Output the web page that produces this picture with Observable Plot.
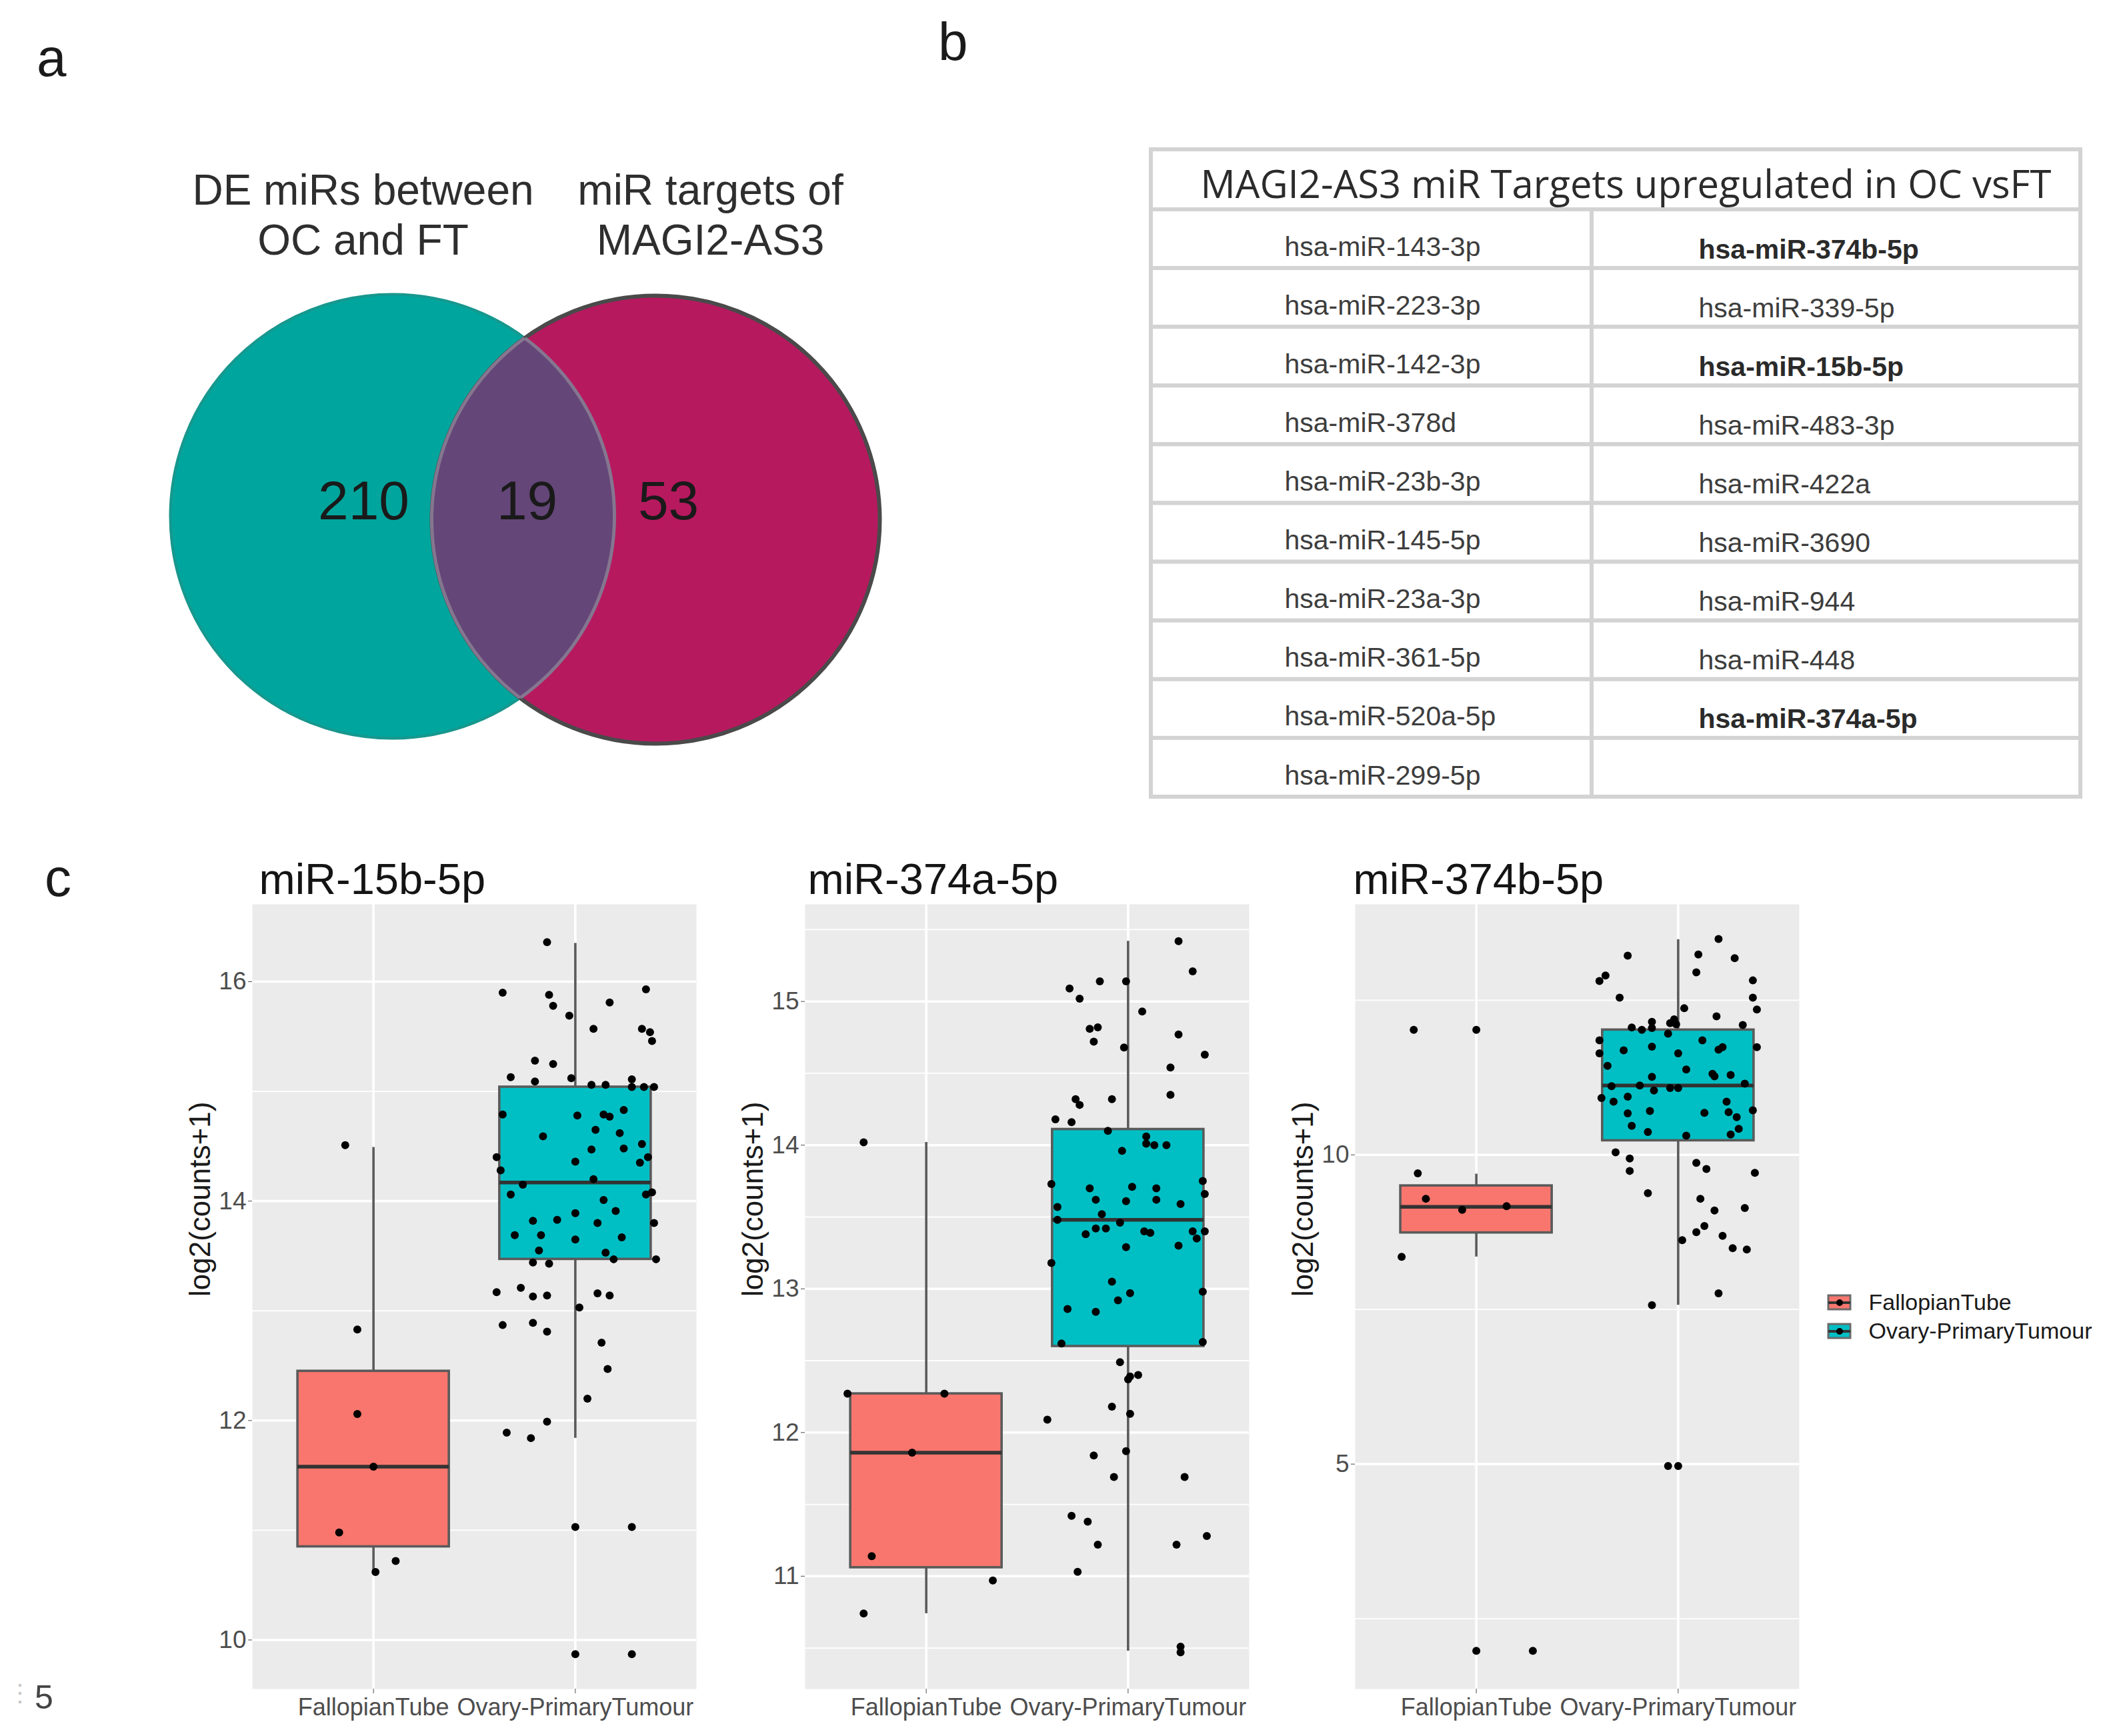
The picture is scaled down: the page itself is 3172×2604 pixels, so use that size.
<!DOCTYPE html>
<html><head><meta charset="utf-8">
<script src="https://cdn.jsdelivr.net/npm/d3@7"></script>
<script src="https://cdn.jsdelivr.net/npm/@observablehq/plot@0.6"></script>
<style>
body{margin:0;background:#fff;}
#fig{position:relative;width:3172px;height:2604px;overflow:hidden;background:#fff;font-family:"Liberation Sans",Arial,sans-serif;}
.lbl{position:absolute;line-height:1;color:#1a1a1a;white-space:pre;}
</style></head><body><div id="fig"></div>
<script>
// ---------------- DATA ----------------
const panelLetters = ["a", "b", "c"];
const vennSetLabels = ["DE miRs between\nOC and FT", "miR targets of\nMAGI2-AS3"];
const vennCounts = [210, 19, 53]; // left only, both, right only

const tableHeader = "MAGI2-AS3 miR Targets upregulated in OC vsFT";
const tableLeft = ["hsa-miR-143-3p","hsa-miR-223-3p","hsa-miR-142-3p","hsa-miR-378d","hsa-miR-23b-3p","hsa-miR-145-5p","hsa-miR-23a-3p","hsa-miR-361-5p","hsa-miR-520a-5p","hsa-miR-299-5p"];
const tableRight = ["hsa-miR-374b-5p","hsa-miR-339-5p","hsa-miR-15b-5p","hsa-miR-483-3p","hsa-miR-422a","hsa-miR-3690","hsa-miR-944","hsa-miR-448","hsa-miR-374a-5p",""];
const tableBold = ["hsa-miR-374b-5p","hsa-miR-15b-5p","hsa-miR-374a-5p"];

const groups = ["FallopianTube", "Ovary-PrimaryTumour"];
const groupFills = ["#F8766D", "#00BFC4"];
const yLabel = "log2(counts+1)";
const panelTitles = ["miR-15b-5p", "miR-374a-5p", "miR-374b-5p"];

// box statistics [lower whisker, q1, median, q3, upper whisker] per group
const box15b = [[10.62, 10.85, 11.58, 12.45, 14.49], [11.84, 13.47, 14.17, 15.04, 16.35]];
const box374a = [[10.74, 11.06, 11.86, 12.27, 14.02], [10.48, 12.60, 13.48, 14.11, 15.42]];
const box374b = [[8.35, 8.74, 9.16, 9.50, 9.69], [7.57, 10.23, 11.12, 12.02, 13.48]];

// boxplot outliers per group
const out15b = [[], [11.03, 9.87]];
const out374a = [[], []];
const out374b = [[12.02, 1.98], [4.97]];

// jittered samples: [jitter offset (fraction of category step), value]
const ft15b = [[-0.14,14.51],[-0.08,12.83],[-0.08,12.06],[0.00,11.58],[-0.17,10.98],[0.01,10.62],[0.11,10.72]];
const oc15b = [[-0.14,16.36],[-0.36,15.90],[-0.13,15.88],[-0.11,15.78],[0.17,15.81],[0.35,15.93],[-0.03,15.69],[0.09,15.57],[0.33,15.57],[0.37,15.54],[0.38,15.46],[-0.20,15.28],[-0.11,15.25],[-0.32,15.13],[-0.20,15.09],[-0.02,15.12],[0.08,15.06],[0.15,15.06],[0.28,15.11],[0.28,15.04],[0.34,15.04],[0.39,15.04],[-0.36,14.79],[0.01,14.78],[0.14,14.79],[0.17,14.77],[0.24,14.83],[-0.16,14.59],[0.10,14.65],[0.22,14.62],[0.08,14.47],[0.24,14.48],[0.33,14.52],[-0.39,14.40],[0.00,14.36],[0.32,14.35],[0.36,14.40],[-0.37,14.28],[-0.26,14.15],[0.09,14.20],[-0.32,14.06],[0.14,14.01],[0.35,14.06],[0.38,14.08],[-0.21,13.82],[-0.09,13.83],[0.00,13.89],[0.20,13.91],[0.11,13.80],[0.39,13.80],[-0.30,13.69],[-0.17,13.69],[0.00,13.65],[0.23,13.67],[-0.18,13.55],[0.15,13.53],[-0.21,13.44],[-0.13,13.43],[0.19,13.47],[0.40,13.47],[-0.39,13.17],[-0.27,13.21],[-0.21,13.13],[-0.14,13.14],[0.11,13.16],[0.17,13.14],[0.02,13.03],[-0.36,12.87],[-0.21,12.89],[-0.14,12.81],[0.13,12.71],[0.16,12.47],[0.06,12.20],[-0.14,11.99],[-0.34,11.89],[-0.22,11.84],[0.28,11.03],[0.28,9.87]];
const ft374a = [[-0.31,14.02],[-0.39,12.27],[0.09,12.27],[-0.07,11.86],[-0.27,11.14],[-0.31,10.74],[0.33,10.97]];
const oc374a = [[0.25,15.42],[0.32,15.21],[-0.29,15.09],[-0.14,15.14],[-0.01,15.14],[-0.24,15.02],[0.07,14.93],[-0.19,14.81],[-0.15,14.82],[-0.17,14.72],[0.25,14.77],[-0.02,14.68],[0.38,14.63],[0.21,14.54],[0.21,14.35],[-0.26,14.32],[-0.24,14.28],[-0.08,14.32],[-0.36,14.18],[-0.28,14.16],[-0.10,14.10],[0.09,14.06],[0.09,14.01],[0.13,14.00],[0.19,14.00],[-0.03,13.96],[-0.38,13.73],[-0.19,13.70],[0.02,13.71],[0.14,13.70],[0.37,13.75],[0.38,13.66],[-0.35,13.57],[-0.16,13.62],[-0.01,13.61],[0.14,13.62],[0.26,13.59],[-0.35,13.48],[-0.13,13.52],[-0.04,13.46],[-0.16,13.42],[-0.11,13.42],[-0.21,13.38],[0.08,13.40],[0.11,13.39],[0.32,13.40],[0.34,13.35],[0.38,13.40],[-0.01,13.29],[0.25,13.30],[-0.38,13.18],[-0.08,13.05],[-0.05,12.92],[0.01,12.97],[0.37,12.98],[-0.30,12.86],[-0.16,12.84],[-0.33,12.62],[0.37,12.63],[-0.04,12.49],[0.00,12.37],[0.05,12.40],[0.01,12.39],[-0.40,12.09],[-0.08,12.18],[0.01,12.13],[-0.17,11.84],[-0.01,11.87],[-0.07,11.69],[0.28,11.69],[-0.28,11.42],[-0.20,11.38],[-0.15,11.22],[0.24,11.22],[0.39,11.28],[-0.25,11.03],[0.26,10.51],[0.26,10.47]];
const ft374b = [[-0.31,12.02],[-0.29,9.70],[-0.25,9.29],[-0.07,9.11],[0.15,9.17],[-0.37,8.35],[0.28,1.98]];
const oc374b = [[0.20,13.49],[-0.25,13.22],[0.10,13.24],[0.28,13.18],[-0.36,12.90],[-0.39,12.81],[0.09,12.95],[0.37,12.82],[-0.29,12.54],[0.37,12.54],[0.03,12.37],[0.39,12.35],[0.19,12.24],[-0.23,12.06],[-0.18,12.02],[-0.13,12.15],[-0.13,12.05],[-0.04,12.13],[-0.02,12.19],[-0.01,12.11],[-0.05,11.96],[0.32,12.10],[-0.39,11.85],[0.12,11.85],[-0.27,11.69],[-0.13,11.75],[0.20,11.70],[0.22,11.74],[0.39,11.74],[-0.39,11.64],[0.00,11.64],[-0.35,11.44],[0.04,11.38],[-0.13,11.26],[0.17,11.31],[0.18,11.27],[0.26,11.29],[-0.33,11.11],[-0.19,11.12],[-0.12,11.04],[-0.04,11.08],[0.00,11.08],[0.33,11.15],[-0.38,10.92],[-0.32,10.86],[-0.25,10.94],[0.24,10.86],[-0.25,10.67],[-0.14,10.71],[0.13,10.68],[0.25,10.69],[0.29,10.61],[0.37,10.72],[-0.23,10.47],[-0.15,10.37],[0.04,10.31],[0.26,10.33],[0.30,10.42],[-0.31,10.04],[-0.24,9.94],[-0.24,9.74],[0.09,9.87],[0.14,9.77],[0.38,9.71],[-0.15,9.38],[0.11,9.29],[0.18,9.10],[0.33,9.14],[0.13,8.85],[0.09,8.75],[0.22,8.69],[0.02,8.62],[0.27,8.49],[0.34,8.47],[0.20,7.76],[-0.13,7.57],[-0.05,4.97]];

// y axis settings
const yDomains = [[9.553, 16.705], [10.215, 15.676], [1.364, 14.05]];
const yMajor = [[10, 12, 14, 16], [11, 12, 13, 14, 15], [5, 10]];
const yMinor = [[11, 13, 15], [10.5, 11.5, 12.5, 13.5, 14.5, 15.5], [2.5, 7.5, 12.5]];

// ---------------- LAYOUT ----------------
const fig = document.getElementById("fig");
const SANS = "Liberation Sans, Arial, Helvetica, sans-serif";
const NARROW = "Liberation Sans Narrow, Arial Narrow, " + SANS;
const OPEN = "Open Sans, " + SANS;
function place(el, left, top) {
  el.style.position = "absolute";
  el.style.left = left + "px";
  el.style.top = top + "px";
  fig.appendChild(el);
  return el;
}
function label(text, left, top, size, color) {
  const d = document.createElement("div");
  d.className = "lbl";
  d.textContent = text;
  d.style.fontSize = size + "px";
  if (color) d.style.color = color;
  place(d, left, top);
  return d;
}
label(panelLetters[0], 55, 47, 80);
label(panelLetters[1], 1407, 23, 80);
label(panelLetters[2], 67, 1277, 80);
label("\u22EE", 12, 2522, 36, "#c4c4c4");
label("5", 52, 2521, 50, "#444");

// ---------------- VENN ----------------
const VW = 1400, VH = 1200;
const vennGeom = {left: {x: 588, y: 774, r: 333}, right: {x: 983, y: 779, r: 336}};
const vennTextPos = [{x: 544, y: 381}, {x: 1065, y: 381}];
const vennCountPos = [{x: 545, y: 752}, {x: 790, y: 752}, {x: 1002, y: 752}];
const venn = Plot.plot({
  width: VW, height: VH, margin: 0,
  x: {domain: [0, VW], range: [0, VW], axis: null},
  y: {domain: [0, VH], range: [0, VH], axis: null},
  style: {background: "transparent", fontFamily: SANS, overflow: "visible"},
  marks: [
    Plot.dot([vennGeom.left], {x: "x", y: "y", r: vennGeom.left.r, fill: "#00A69D", stroke: "#17978e", strokeWidth: 4}),
    Plot.dot([vennGeom.right], {x: "x", y: "y", r: vennGeom.right.r, fill: "#B7195F", stroke: "#4a4a4a", strokeWidth: 6}),
    Plot.dot([vennGeom.left], {x: "x", y: "y", r: vennGeom.left.r, fill: "#644678", stroke: "none"}),
    Plot.dot([vennGeom.left], {x: "x", y: "y", r: vennGeom.left.r, fill: "none", stroke: "#857690", strokeWidth: 5}),
    Plot.dot([vennGeom.right], {x: "x", y: "y", r: vennGeom.right.r, fill: "none", stroke: "#857690", strokeWidth: 5}),
    Plot.text(vennSetLabels, {x: (d, i) => vennTextPos[i].x, y: (d, i) => vennTextPos[i].y, text: d => d, fontSize: 64, fontFamily: SANS, lineHeight: 1.17, lineAnchor: "bottom", fill: "#2e2e2e"}),
    Plot.text(vennCounts, {x: (d, i) => vennCountPos[i].x, y: (d, i) => vennCountPos[i].y, text: d => String(d), fontSize: 82, fontFamily: SANS, fill: "#1a1a1a"})
  ]
});
place(venn, 0, 0);
{
  const svg = d3.select(venn);
  const cs = venn.querySelectorAll("circle");
  const defs = svg.insert("defs", ":first-child");
  const mk = (id, c) => defs.append("clipPath").attr("id", id).append("circle")
    .attr("cx", c.getAttribute("cx")).attr("cy", c.getAttribute("cy")).attr("r", c.getAttribute("r"));
  mk("clipRightSet", cs[1]);
  mk("clipLeftSet", cs[0]);
  cs[2].setAttribute("clip-path", "url(#clipRightSet)");
  cs[3].setAttribute("clip-path", "url(#clipRightSet)");
  cs[4].setAttribute("clip-path", "url(#clipLeftSet)");
}

// ---------------- TABLE ----------------
const TW = 1450, TH = 1020;
const tb = {left: 26, right: 1420, top: 24, headBottom: 114, rowH: 88.1, split: 687};
const cells = [{x1: tb.left, x2: tb.right, y1: tb.top, y2: tb.headBottom}];
const cellTexts = [];
tableLeft.forEach((t, i) => {
  const y1 = tb.headBottom + i * tb.rowH, y2 = y1 + tb.rowH;
  cells.push({x1: tb.left, x2: tb.split, y1, y2});
  cells.push({x1: tb.split, x2: tb.right, y1, y2});
  cellTexts.push({x: tb.left + 200, y: (y1 + y2) / 2 + 12, t});
  cellTexts.push({x: tb.split + 160, y: (y1 + y2) / 2 + 16, t: tableRight[i]});
});
const table = Plot.plot({
  width: TW, height: TH, margin: 0,
  x: {domain: [0, TW], range: [0, TW], axis: null},
  y: {domain: [0, TH], range: [0, TH], axis: null},
  style: {background: "transparent", fontFamily: SANS, overflow: "visible"},
  marks: [
    Plot.rect(cells, {x1: "x1", x2: "x2", y1: "y1", y2: "y2", fill: "white", stroke: "#d3d3d3", strokeWidth: 6}),
    Plot.text([tableHeader], {x: 738, y: (tb.top + tb.headBottom) / 2 + 9, text: d => d, fontSize: 58, fontFamily: OPEN, fill: "#2b2b2b"}),
    Plot.text(cellTexts.filter(d => !tableBold.includes(d.t)), {x: "x", y: "y", text: "t", textAnchor: "start", fontSize: 41, fontFamily: SANS, fill: "#3d3d3d"}),
    Plot.text(cellTexts.filter(d => tableBold.includes(d.t)), {x: "x", y: "y", text: "t", textAnchor: "start", fontSize: 41, fontFamily: SANS, fontWeight: "bold", fill: "#2a2a2a"})
  ]
});
place(table, 1700, 200);

// ---------------- BOXPLOT PANELS ----------------
const ML = 160, MT = 100, MR = 10, MB = 80, PW = 666, PH = 1177;
const BOXHALF = 0.375;
function panel(k, title, boxes, outs, ft, oc, titleDx) {
  const boxRows = boxes.map((b, i) => ({g: groups[i], pos: i + 1, lo: b[0], q1: b[1], med: b[2], q3: b[3], hi: b[4]}));
  const outRows = outs.flatMap((o, i) => o.map(v => ({pos: i + 1, y: v})));
  const pts = [ft, oc].flatMap((arr, i) => arr.map(([dx, v]) => ({x: i + 1 + dx, y: v})));
  return Plot.plot({
    width: ML + PW + MR, height: MT + PH + MB,
    marginLeft: ML, marginTop: MT, marginRight: MR, marginBottom: MB,
    x: {domain: [0.4, 2.6], axis: null},
    y: {domain: yDomains[k], axis: null},
    color: {domain: groups, range: groupFills},
    style: {background: "transparent", fontFamily: SANS, overflow: "visible"},
    marks: [
      Plot.frame({fill: "#EBEBEB", stroke: "none"}),
      Plot.ruleY(yMinor[k], {stroke: "white", strokeWidth: 1.8}),
      Plot.ruleY(yMajor[k], {stroke: "white", strokeWidth: 3.6}),
      Plot.ruleX([1, 2], {stroke: "white", strokeWidth: 3.6}),
      Plot.axisY({ticks: yMajor[k], tickFormat: d => String(d), tickSize: 6, tickPadding: 3, fontSize: 37, fontFamily: SANS, color: "#4d4d4d", label: null}),
      Plot.axisX({ticks: [1, 2], tickFormat: i => groups[i - 1], tickSize: 7, tickPadding: 7, fontSize: 36, fontFamily: NARROW, color: "#4d4d4d", label: null}),
      Plot.ruleX(boxRows, {x: "pos", y1: "lo", y2: "q1", stroke: "#5a5a5a", strokeWidth: 3.6}),
      Plot.ruleX(boxRows, {x: "pos", y1: "q3", y2: "hi", stroke: "#5a5a5a", strokeWidth: 3.6}),
      Plot.rect(boxRows, {x1: d => d.pos - BOXHALF, x2: d => d.pos + BOXHALF, y1: "q1", y2: "q3", fill: "g", stroke: "#5a5a5a", strokeWidth: 3.6}),
      Plot.ruleY(boxRows, {x1: d => d.pos - BOXHALF, x2: d => d.pos + BOXHALF, y: "med", stroke: "#333333", strokeWidth: 5.5}),
      Plot.dot(outRows, {x: "pos", y: "y", r: 6, fill: "black"}),
      Plot.dot(pts, {x: "x", y: "y", r: 6, fill: "black"}),
      Plot.text([title], {frameAnchor: "top-left", text: d => d, dx: titleDx, dy: -16, lineAnchor: "bottom", textAnchor: "start", fontSize: 65, fontFamily: SANS, fill: "#141414"}),
      Plot.text([yLabel], {frameAnchor: "left", text: d => d, dx: -78, rotate: -90, fontSize: 44, fontFamily: SANS, fill: "#1a1a1a"})
    ]
  });
}
place(panel(0, panelTitles[0], box15b, out15b, ft15b, oc15b, 10), 378 - ML, 1356 - MT);
place(panel(1, panelTitles[1], box374a, out374a, ft374a, oc374a, 4), 1207 - ML, 1356 - MT);
place(panel(2, panelTitles[2], box374b, out374b, ft374b, oc374b, -3), 2032 - ML, 1356 - MT);

// ---------------- LEGEND ----------------
const LW = 440, LH = 86;
const key = {x1: 8, x2: 41, text: 68};
const legend = Plot.plot({
  width: LW, height: LH, margin: 0,
  x: {domain: [0, LW], range: [0, LW], axis: null},
  y: {domain: groups, range: [0, LH], padding: 0, axis: null},
  color: {domain: groups, range: groupFills},
  style: {background: "transparent", fontFamily: SANS, overflow: "visible"},
  marks: [
    Plot.ruleX(groups, {x: (key.x1 + key.x2) / 2, y: d => d, stroke: "#6a6a6a", strokeWidth: 3, insetTop: 2, insetBottom: 2}),
    Plot.barX(groups, {x1: key.x1, x2: key.x2, y: d => d, fill: d => d, stroke: "#6a6a6a", strokeWidth: 3, insetTop: 11, insetBottom: 11}),
    Plot.ruleY(groups, {x1: key.x1, x2: key.x2, y: d => d, stroke: "#333", strokeWidth: 4}),
    Plot.dot(groups, {x: (key.x1 + key.x2) / 2, y: d => d, r: 5, fill: "black"}),
    Plot.text(groups, {x: key.text, y: d => d, text: d => d, textAnchor: "start", fontSize: 34, fontFamily: SANS, fill: "#1a1a1a"})
  ]
});
place(legend, 2734, 1932);
</script></body></html>
